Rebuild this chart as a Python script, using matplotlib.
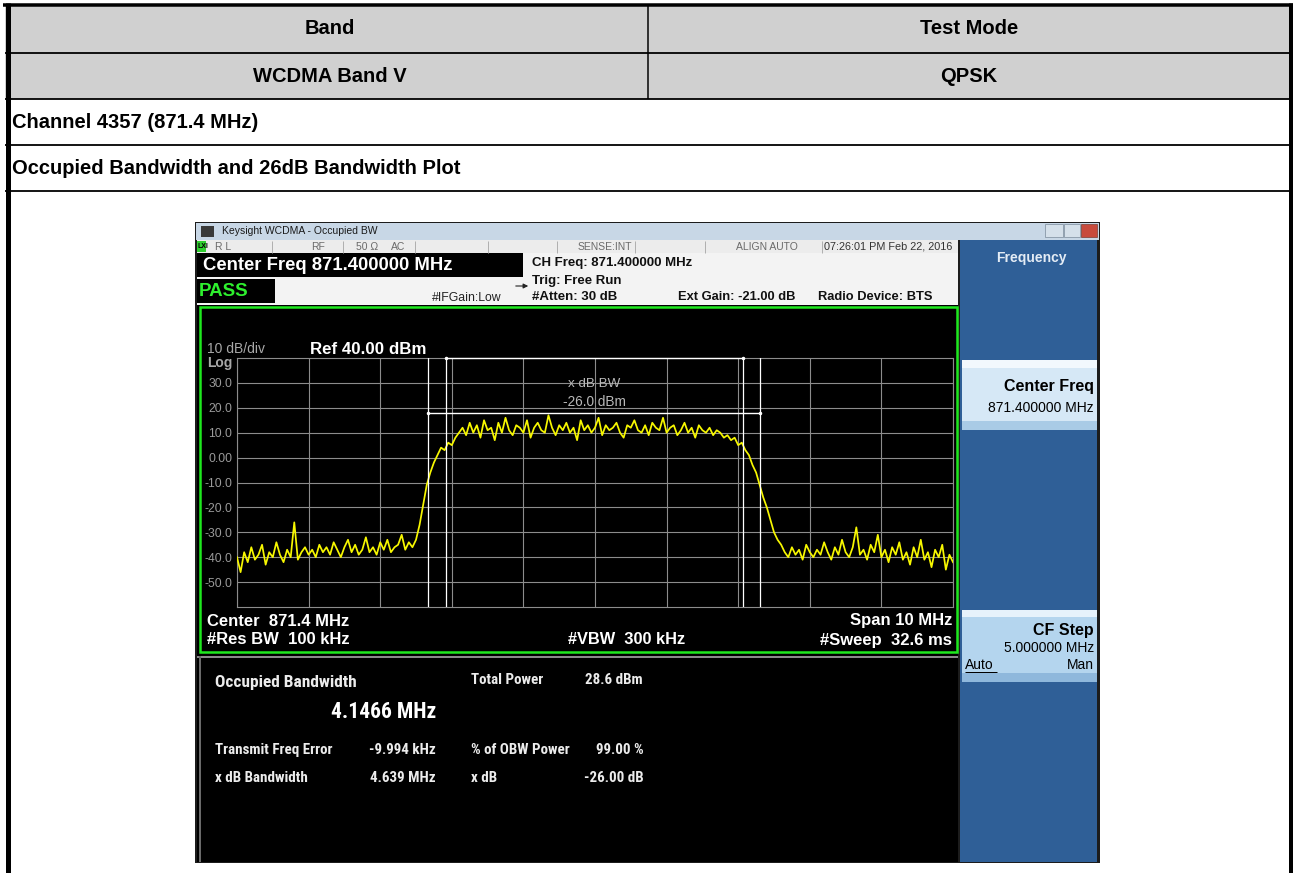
import numpy as np
import matplotlib.pyplot as plt
from matplotlib import font_manager
from matplotlib.patches import Rectangle

# ---- data ----
band = "WCDMA Band V"
test_mode = "QPSK"
channel_label = "Channel 4357 (871.4 MHz)"
plot_label = "Occupied Bandwidth and 26dB Bandwidth Plot"

center_mhz = 871.4
span_mhz = 10.0
ref_level = 40.0
db_per_div = 10.0
obw_mhz = 4.1466
xdb_bw_mhz = 4.639
freq_err_khz = -9.994
xdb_level = 18.0          # level of the x dB bar (trace peak)
xdb_value = -26.00
total_power = 28.6
obw_pct = 99.00

ytick_vals = [30, 20, 10, 0, -10, -20, -30, -40, -50]
ytick_labels = ["30.0", "20.0", "10.0", "0.00", "-10.0", "-20.0", "-30.0", "-40.0", "-50.0"]

# trace, dBm, 866.4 .. 876.4 MHz
trace_left = [
    -40, -46, -38, -42, -36, -41, -39, -35, -43, -38,
    -40, -34, -39, -42, -37, -40, -26, -41, -38, -36,
    -39, -37, -40, -35, -38, -36, -39, -34, -37, -40,
    -36, -33, -38, -35, -39, -37, -32, -38, -36, -39,
    -34, -37, -33, -38, -36, -35, -31, -37, -34, -36]
trace_rise = [-33, -27, -19, -11, -6, -2, 1, 4, 3, 6, 5, 8, 10]
trace_top = [
    12, 9, 14, 10, 13, 8, 15, 11, 12, 7, 14, 10,
    16, 11, 9, 13, 12, 10, 15, 8, 12, 14, 11, 10,
    17, 12, 9, 13, 11, 14, 10, 12, 7, 15, 11, 13,
    10, 12, 16, 9, 13, 11, 12, 14, 10, 8, 13, 12,
    15, 11, 10, 13, 9, 14, 12, 11, 16, 10, 12, 13,
    9, 11, 14, 10, 12, 8, 13, 11, 10, 12, 9, 11]
trace_fall = [10, 8, 9, 7, 8, 5, 6, 3, 1, -3, -6, -11, -16, -20, -25, -30, -33, -35]
trace_right = [
    -38, -40, -36, -39, -37, -41, -35, -38, -40, -37, -39, -34,
    -38, -41, -36, -39, -33, -38, -40, -36, -28, -39, -37, -41,
    -35, -38, -31, -40, -37, -42, -36, -39, -34, -41, -38, -43,
    -36, -40, -33, -41, -38, -44, -37, -40, -35, -45, -39, -42]

trace = np.array(trace_left + trace_rise + trace_top + trace_fall + trace_right, dtype=float)
f_start = center_mhz - span_mhz / 2
f_stop = center_mhz + span_mhz / 2
freqs = np.linspace(f_start, f_stop, len(trace))

# ---- fonts ----
SANS = ["Liberation Sans", "DejaVu Sans"]
_names = {f.name for f in font_manager.fontManager.ttflist}
if "Liberation Sans Narrow" in _names:
    NARROW, NS = ["Liberation Sans Narrow", "Liberation Sans"], 1.0
elif "Roboto Condensed" in _names:
    NARROW, NS = ["Roboto Condensed", "Liberation Sans"], 1.0
else:
    NARROW, NS = SANS, 0.84

# ---- figure in pixel coordinates ----
W, H = 1293, 873
fig = plt.figure(figsize=(W / 100, H / 100), dpi=100)
bg = fig.add_axes([0, 0, 1, 1])
bg.set_xlim(0, W)
bg.set_ylim(H, 0)
bg.axis("off")


def px(v):
    return v * 72 / 100


def box(x0, y0, x1, y1, color, ec="none", lw=0, z=1):
    bg.add_patch(Rectangle((x0, y0), x1 - x0, y1 - y0, fc=color, ec=ec, lw=lw, zorder=z))


def hline(y, x0, x1, color="black", w=1.5, z=3):
    bg.plot([x0, x1], [y, y], color=color, lw=px(w), zorder=z, solid_capstyle="butt")


def vline(x, y0, y1, color="black", w=1.5, z=3):
    bg.plot([x, x], [y0, y1], color=color, lw=px(w), zorder=z, solid_capstyle="butt")


def txt(x, y, s, size, color="black", weight="normal", ha="left", family=SANS, z=5):
    bg.text(x, y, s, fontsize=size, color=color, fontweight=weight, ha=ha, va="center",
            family=family, zorder=z)


# ---- report table ----
box(5, 5, 1290, 99, "#d0d0d0")
for y in [53, 99, 145, 191]:
    hline(y, 5, 1293, w=1.8)
hline(4.5, 3, 1293, w=3.5)
vline(7.5, 3, 873, w=5)
vline(1290.5, 3, 873, w=5)
vline(648, 5, 99, w=1.5)

txt(330, 29, "Band", 14.5, weight="bold", ha="center")
txt(969, 29, "Test Mode", 14.5, weight="bold", ha="center")
txt(330, 76, band, 14.5, weight="bold", ha="center")
txt(969, 76, test_mode, 14.5, weight="bold", ha="center")
txt(12, 122, channel_label, 14.5, weight="bold")
txt(12, 168, plot_label, 14.5, weight="bold")

# ---- analyzer window ----
box(195, 222, 1100, 863, "#1c1c1c")
box(196, 223, 1099, 240, "#c8d7e6")
box(201, 226, 214, 237, "#3a3a3a")
txt(222, 231.5, "Keysight WCDMA - Occupied BW", 7.5, color="#1a1a1a")
box(1045, 224, 1063, 237, "#d5e0ea", ec="#7a8a9a", lw=0.5)
box(1064, 224, 1080, 237, "#d5e0ea", ec="#7a8a9a", lw=0.5)
box(1081, 224, 1097, 237, "#c84a3c", ec="#7a3a30", lw=0.5)

# status row
box(197, 240, 958, 253, "#ececec")
box(197, 241, 206, 252, "#2fcf2f")
txt(197.5, 246.5, "LXI", 5, color="black", weight="bold")
for xs in [272, 343, 415, 488, 557, 635, 705, 822]:
    vline(xs, 241, 253, color="#b0b0b0", w=1)
stat_col = "#6a6a6a"
txt(215, 246.5, "R L", 7.5, color=stat_col)
txt(311, 246.5, "RF", 7.5, color=stat_col)
txt(356, 246.5, "50 Ω", 7.5, color=stat_col)
txt(391, 246.5, "AC", 7.5, color=stat_col)
txt(632, 246.5, "SENSE:INT", 7.5, color=stat_col, ha="right")
txt(767, 246.5, "ALIGN AUTO", 7.5, color=stat_col, ha="center")
txt(824, 246.5, "07:26:01 PM Feb 22, 2016", 7.8, color="#333333")

# header info
box(197, 253, 958, 305, "#f3f3f3")
box(197, 253, 523, 277, "black")
box(197, 279, 275, 303, "black")
txt(203, 265.5, "Center Freq 871.400000 MHz", 13.3, color="white", weight="bold")
txt(199, 291, "PASS", 13.5, color="#2ef02e", weight="bold")
txt(432, 298, "#IFGain:Low", 8.8, color="#222222")
bg.annotate("", xy=(531, 286), xytext=(513, 286),
            arrowprops=dict(arrowstyle="-|>", lw=0.8, color="#222222", mutation_scale=7))
txt(532, 263, "CH Freq: 871.400000 MHz", 9.5, color="#111111", weight="bold")
txt(532, 281, "Trig: Free Run", 9.5, color="#111111", weight="bold")
txt(532, 297, "#Atten: 30 dB", 9.5, color="#111111", weight="bold")
txt(678, 297, "Ext Gain: -21.00 dB", 9.3, color="#111111", weight="bold")
txt(818, 297, "Radio Device: BTS", 9.3, color="#111111", weight="bold")

# softkey panel
box(960, 240, 1097, 862, "#2f5f97")
txt(1031, 258, "Frequency", 10, color="#e4ecf5", weight="bold", ha="center")
box(962, 360, 1097, 430, "#d6e8f6")
box(962, 360, 1097, 368, "#f2f8fd")
box(962, 421, 1097, 430, "#a9cbe6")
txt(1094, 387, "Center Freq", 11.5, weight="bold", ha="right")
txt(1094, 408, "871.400000 MHz", 10, ha="right")
box(962, 610, 1097, 682, "#b4d5ee")
box(962, 610, 1097, 617, "#e6f2fb")
box(962, 673, 1097, 682, "#8fb8dc")
txt(1094, 630, "CF Step", 11.5, weight="bold", ha="right")
txt(1094, 648, "5.000000 MHz", 10, ha="right")
txt(965, 665, "Auto", 10)
hline(672, 965, 997, color="black", w=1, z=6)
txt(1094, 665, "Man", 10, ha="right")

# plot area + measurement panel
box(197, 305, 958, 655, "black")
bg.add_patch(Rectangle((200, 307), 757, 345, fc="none", ec="#1ee81e", lw=px(2.5), zorder=4))
box(197, 655, 958, 862, "black")
hline(656.5, 197, 958, color="#8a8a8a", w=2)
vline(200, 656, 862, color="#6a6a6a", w=2)

lab_grey = "#a8a8a8"
txt(207, 349, "10 dB/div", 10, color=lab_grey)
txt(207, 363, "Log", 10, color=lab_grey, weight="bold")
txt(310, 349, "Ref 40.00 dBm", 12.2, color="white", weight="bold")
txt(207, 621, "Center  871.4 MHz", 12, color="white", weight="bold")
txt(207, 640, "#Res BW  100 kHz", 12, color="white", weight="bold")
txt(568, 640, "#VBW  300 kHz", 11.8, color="white", weight="bold")
txt(952, 621, "Span 10 MHz", 12, color="white", weight="bold", ha="right")
txt(952, 640, "#Sweep  32.6 ms", 12, color="white", weight="bold", ha="right")

# measurement results
mcol = "#ececec"
ms = 10.8 * NS
txt(215, 683, "Occupied Bandwidth", 12.5 * NS, color=mcol, weight="bold", family=NARROW)
txt(436, 712, f"{obw_mhz:.4f} MHz", 15.5 * NS, color="white", weight="bold", ha="right", family=NARROW)
txt(471, 680, "Total Power", ms, color=mcol, weight="bold", family=NARROW)
txt(585, 680, f"{total_power:.1f} dBm", ms, color=mcol, weight="bold", family=NARROW)
txt(215, 750, "Transmit Freq Error", ms, color=mcol, weight="bold", family=NARROW)
txt(436, 750, f"{freq_err_khz:.3f} kHz", ms, color=mcol, weight="bold", ha="right", family=NARROW)
txt(471, 750, "% of OBW Power", ms, color=mcol, weight="bold", family=NARROW)
txt(644, 750, f"{obw_pct:.2f} %", ms, color=mcol, weight="bold", ha="right", family=NARROW)
txt(215, 778, "x dB Bandwidth", ms, color=mcol, weight="bold", family=NARROW)
txt(436, 778, f"{xdb_bw_mhz:.3f} MHz", ms, color=mcol, weight="bold", ha="right", family=NARROW)
txt(471, 778, "x dB", ms, color=mcol, weight="bold", family=NARROW)
txt(644, 778, f"{xdb_value:.2f} dB", ms, color=mcol, weight="bold", ha="right", family=NARROW)

# ---- spectrum graticule ----
gx0, gy0, gx1, gy1 = 237, 358, 953, 607
ax = fig.add_axes([gx0 / W, 1 - gy1 / H, (gx1 - gx0) / W, (gy1 - gy0) / H])
ax.set_facecolor("black")
ax.set_xlim(f_start, f_stop)
ax.set_ylim(ref_level - 10 * db_per_div, ref_level)
ax.set_xticks(np.arange(f_start, f_stop + 0.01, span_mhz / 10))
ax.set_yticks(ytick_vals)
ax.set_yticklabels(ytick_labels)
ax.tick_params(axis="x", length=0, labelbottom=False)
ax.tick_params(axis="y", length=0, pad=3.5, labelsize=8.7, labelcolor="#9a9a9a")
for lab in ax.get_yticklabels():
    lab.set_family(SANS)
ax.grid(True, color="#8c8c8c", lw=0.8)
ax.set_axisbelow(True)
for s in ax.spines.values():
    s.set_color("#8c8c8c")
    s.set_linewidth(0.8)

ax.plot(freqs, trace, color="#f7f700", lw=1.25, zorder=3)

# OBW and x dB markers
f_c = center_mhz + freq_err_khz / 1000
obw_l, obw_r = f_c - obw_mhz / 2, f_c + obw_mhz / 2
xdb_l, xdb_r = f_c - xdb_bw_mhz / 2, f_c + xdb_bw_mhz / 2
for fm in [obw_l, obw_r, xdb_l, xdb_r]:
    ax.axvline(fm, color="white", lw=0.9, zorder=4)
ax.plot([obw_l, obw_r], [ref_level, ref_level], color="white", lw=1.0, zorder=4,
        clip_on=False, marker=".", markersize=3)
ax.plot([xdb_l, xdb_r], [xdb_level, xdb_level], color="white", lw=1.0, zorder=4,
        marker=".", markersize=3)
ax.text(f_c, 29.5, "x dB BW", color="#b8b8b8", fontsize=9.6, ha="center", va="center",
        family=SANS, zorder=5)
ax.text(f_c, 22.5, f"{xdb_value:.1f} dBm", color="#b8b8b8", fontsize=9.8, ha="center",
        va="center", family=SANS, zorder=5)

fig.savefig("out.png", dpi=100)
